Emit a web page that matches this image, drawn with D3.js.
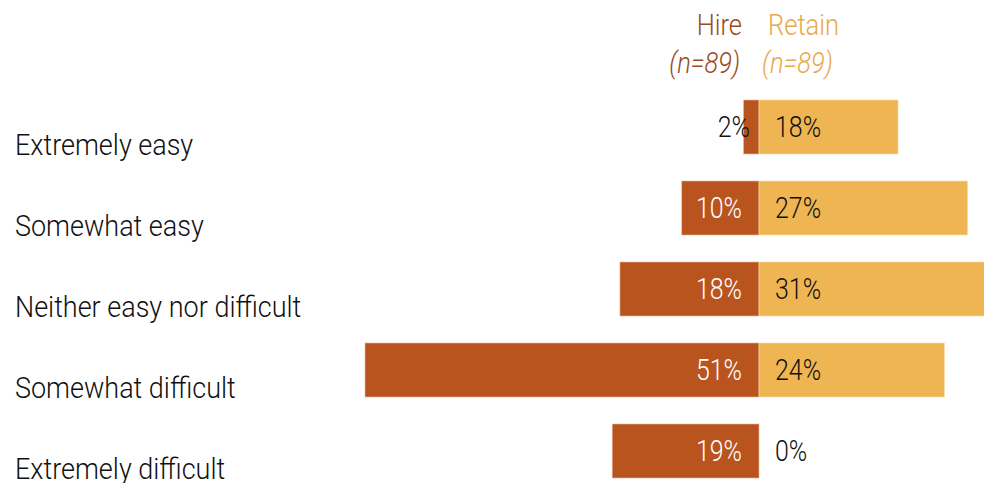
<!DOCTYPE html>
<html>
<head>
<meta charset="utf-8">
<script src="https://cdn.jsdelivr.net/npm/d3@7"></script>
<style>
  body { margin: 0; background: #fff; }
  text { font-family: Roboto, sans-serif; font-weight: 300; }
</style>
</head>
<body>
<div id="chart"></div>
<script>
const categories = ["Extremely easy", "Somewhat easy", "Neither easy nor difficult", "Somewhat difficult", "Extremely difficult"];
const hireValues = [2, 10, 18, 51, 19];
const retainValues = [18, 27, 31, 24, 0];
const seriesNames = ["Hire", "Retain"];
const sampleLabels = ["(n=89)", "(n=89)"];

const width = 984, height = 483;
const centerX = 759;
const hireColor = "#b9541f", retainColor = "#efb553";
const hireText = "#9b4a22", retainText = "#e9a84c";

const svg = d3.select("#chart").append("svg")
    .attr("width", width)
    .attr("height", height);

// px per percent, both sides share it
const xLen = d3.scaleLinear().domain([0, 51]).range([0, 394]);

const y = d3.scaleBand()
    .domain(categories)
    .range([86.5, 491.5])
    .paddingInner(1 / 3)
    .paddingOuter(1 / 6);

const rows = categories.map((c, i) => ({ cat: c, hire: hireValues[i], retain: retainValues[i] }));

// condensed look: squeeze text horizontally
function cText(g, x, yy, str, sx) {
    return g.append("text")
        .attr("transform", `translate(${x},${yy}) scale(${sx},1)`)
        .text(str);
}

// bars
svg.append("g").selectAll("rect")
    .data(rows)
    .join("rect")
    .attr("x", d => centerX - xLen(d.hire))
    .attr("y", d => y(d.cat))
    .attr("width", d => xLen(d.hire))
    .attr("height", y.bandwidth())
    .attr("fill", hireColor)
    .attr("stroke", "#e8b89c")
    .attr("stroke-width", 0.6);

svg.append("g").selectAll("rect")
    .data(rows.filter(d => d.retain > 0))
    .join("rect")
    .attr("x", centerX)
    .attr("y", d => y(d.cat))
    .attr("width", d => xLen(d.retain))
    .attr("height", y.bandwidth())
    .attr("fill", retainColor)
    .attr("stroke", "#f7dcae")
    .attr("stroke-width", 0.6);

// value labels
const labels = svg.append("g").attr("font-size", 29);
rows.forEach(d => {
    const cy = y(d.cat) + y.bandwidth() / 2 + 10;
    const small = xLen(d.hire) < 40;
    cText(labels, small ? centerX - 9 : centerX - 17, cy, d.hire + "%", 0.86)
        .attr("text-anchor", "end")
        .attr("fill", small ? "#111" : "#fff");
    cText(labels, centerX + 16, cy, d.retain + "%", 0.86)
        .attr("fill", "#111");
});

// category labels
const cats = svg.append("g").attr("font-size", 30);
rows.forEach(d => {
    cText(cats, 15, y(d.cat) + y.bandwidth() + 1, d.cat, 0.9).attr("fill", "#111");
});

// headers
const head = svg.append("g").attr("font-size", 29);
cText(head, centerX - 17, 35, seriesNames[0], 0.88).attr("text-anchor", "end").attr("fill", hireText);
cText(head, centerX + 9, 35, seriesNames[1], 0.88).attr("fill", retainText);
cText(head, centerX - 19, 73, sampleLabels[0], 0.88).attr("text-anchor", "end").attr("fill", hireText).attr("font-style", "italic");
cText(head, centerX + 3, 73, sampleLabels[1], 0.88).attr("fill", retainText).attr("font-style", "italic");
</script>
</body>
</html>
